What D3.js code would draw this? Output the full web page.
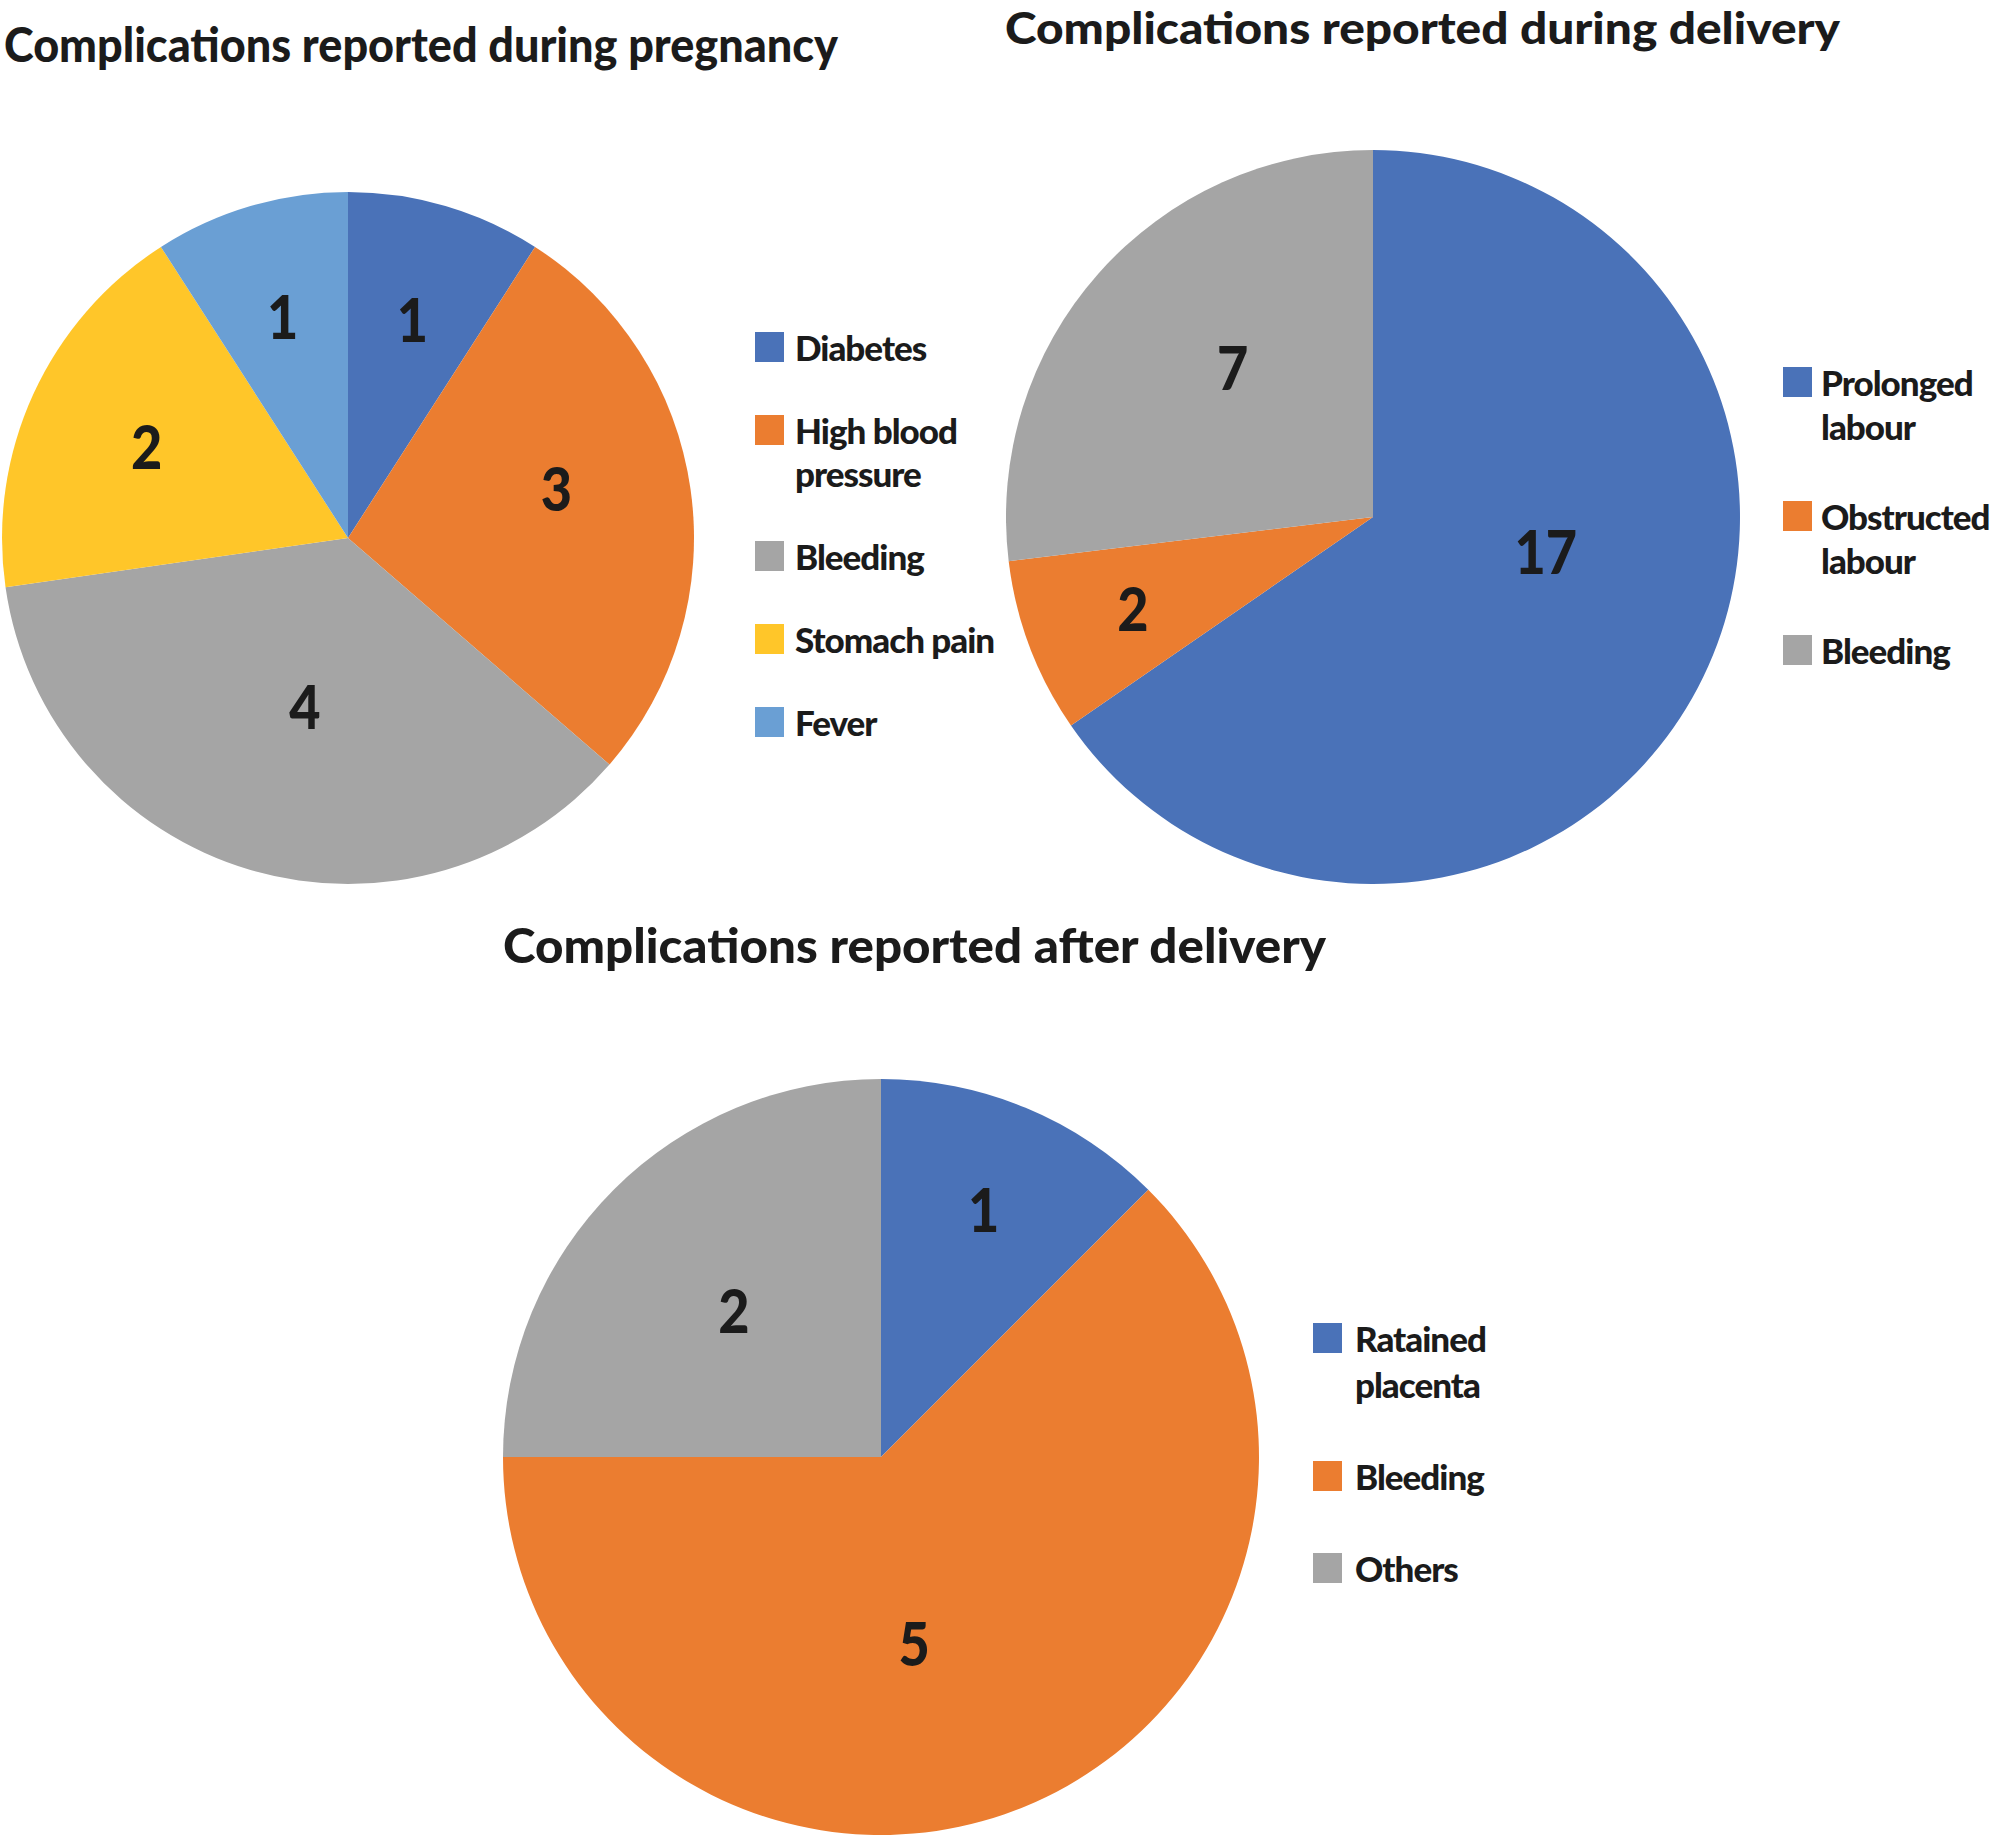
<!DOCTYPE html>
<html>
<head>
<meta charset="utf-8">
<script src="https://cdn.jsdelivr.net/npm/d3@7"></script>
<style>
  html, body { margin: 0; padding: 0; background: #ffffff; }
  svg { display: block; }
  text { font-family: "Lato", "Open Sans", "Liberation Sans", sans-serif; font-weight: 900; fill: #1b1b1b; }
</style>
</head>
<body>
<svg id="chart" width="2008" height="1837"></svg>
<script>
// ---- Data ----
const pregnancyTitle = "Complications reported during pregnancy";
const pregnancyCategories = ["Diabetes", "High blood pressure", "Bleeding", "Stomach pain", "Fever"];
const pregnancyValues = [1, 3, 4, 2, 1];

const deliveryTitle = "Complications reported during delivery";
const deliveryCategories = ["Prolonged labour", "Obstructed labour", "Bleeding"];
const deliveryValues = [17, 2, 7];

const afterTitle = "Complications reported after delivery";
const afterCategories = ["Ratained placenta", "Bleeding", "Others"];
const afterValues = [1, 5, 2];

// ---- Styles / layout ----
const pregnancyColors = ["#4A72B8", "#EB7D30", "#A5A5A5", "#FFC629", "#6A9FD4"];
const deliveryColors = ["#4A72B8", "#EB7D30", "#A5A5A5"];
const afterColors = ["#4A72B8", "#EB7D30", "#A5A5A5"];

const charts = [
  {
    title: pregnancyTitle, categories: pregnancyCategories, values: pregnancyValues, colors: pregnancyColors,
    cx: 348, cy: 538, r: 346,
    titleX: 4, titleY: 62, titleW: 834, titleSize: 48,
    labelRadius: [0.66, 0.62, 0.50, 0.64, 0.67],
    labelAngle: [0.5, 0.445, 0.485, 0.5, 0.5],
    legendSwatchX: 755, legendTextX: 795, legendY: 347, legendLineH: 43, legendGap: 83, legendWrap: 230
  },
  {
    title: deliveryTitle, categories: deliveryCategories, values: deliveryValues, colors: deliveryColors,
    cx: 1373, cy: 517, r: 367,
    titleX: 1005, titleY: 44, titleW: 835, titleSize: 44,
    labelRadius: [0.48, 0.70, 0.56],
    labelAngle: [0.43, 0.5, 0.556],
    legendSwatchX: 1783, legendTextX: 1821, legendY: 382, legendLineH: 44, legendGap: 90, legendWrap: 180
  },
  {
    title: afterTitle, categories: afterCategories, values: afterValues, colors: afterColors,
    cx: 881, cy: 1457, r: 378,
    titleX: 503, titleY: 963, titleW: 823, titleSize: 48,
    labelRadius: [0.71, 0.50, 0.55],
    labelAngle: [0.5, 0.555, 0.5],
    legendSwatchX: 1313, legendTextX: 1355, legendY: 1338, legendLineH: 46, legendGap: 92, legendWrap: 180
  }
];

const svg = d3.select("#chart");

charts.forEach(c => {
  const g = svg.append("g");
  // Title
  g.append("text")
    .attr("x", c.titleX).attr("y", c.titleY)
    .attr("font-size", c.titleSize)
    .attr("textLength", c.titleW)
    .attr("lengthAdjust", "spacingAndGlyphs")
    .text(c.title);

  const data = c.categories.map((name, i) => ({ name, value: c.values[i], color: c.colors[i], i }));
  const pie = d3.pie().value(d => d.value).sort(null);
  const arcs = pie(data);
  const arc = d3.arc().innerRadius(0).outerRadius(c.r);

  const pg = g.append("g").attr("transform", `translate(${c.cx},${c.cy})`);
  pg.selectAll("path.slice")
    .data(arcs)
    .join("path")
    .attr("class", "slice")
    .attr("d", arc)
    .attr("fill", d => d.data.color);

  pg.selectAll("text.val")
    .data(arcs)
    .join("text")
    .attr("class", "val")
    .attr("font-size", 60)
    .attr("text-anchor", "middle")
    .attr("dominant-baseline", "central")
    .attr("transform", d => {
      const i = d.index;
      const a = d.startAngle + (d.endAngle - d.startAngle) * c.labelAngle[i];
      const rr = c.r * c.labelRadius[i];
      const x = Math.sin(a) * rr, y = -Math.cos(a) * rr;
      return `translate(${x},${y}) scale(0.9,1)`;
    })
    .text(d => d.data.value);

  // Legend
  const lg = g.append("g");
  let y = c.legendY;
  data.forEach(d => {
    // greedy wrap using measured text width
    const words = d.name.split(" ");
    const lines = [];
    let cur = "";
    const probe = lg.append("text").attr("font-size", 35);
    words.forEach(w => {
      const test = cur ? cur + " " + w : w;
      probe.text(test);
      if (probe.node().getComputedTextLength() > c.legendWrap && cur) {
        lines.push(cur); cur = w;
      } else cur = test;
    });
    lines.push(cur);
    probe.remove();

    lg.append("rect")
      .attr("x", c.legendSwatchX).attr("y", y - 15)
      .attr("width", 29).attr("height", 30)
      .attr("fill", d.color);
    lines.forEach((ln, k) => {
      lg.append("text")
        .attr("x", c.legendTextX).attr("y", y + k * c.legendLineH)
        .attr("font-size", 35)
        .attr("dominant-baseline", "central")
        .attr("letter-spacing", -1)
        .text(ln);
    });
    y += (lines.length - 1) * c.legendLineH + c.legendGap;
  });
});
</script>
</body>
</html>
